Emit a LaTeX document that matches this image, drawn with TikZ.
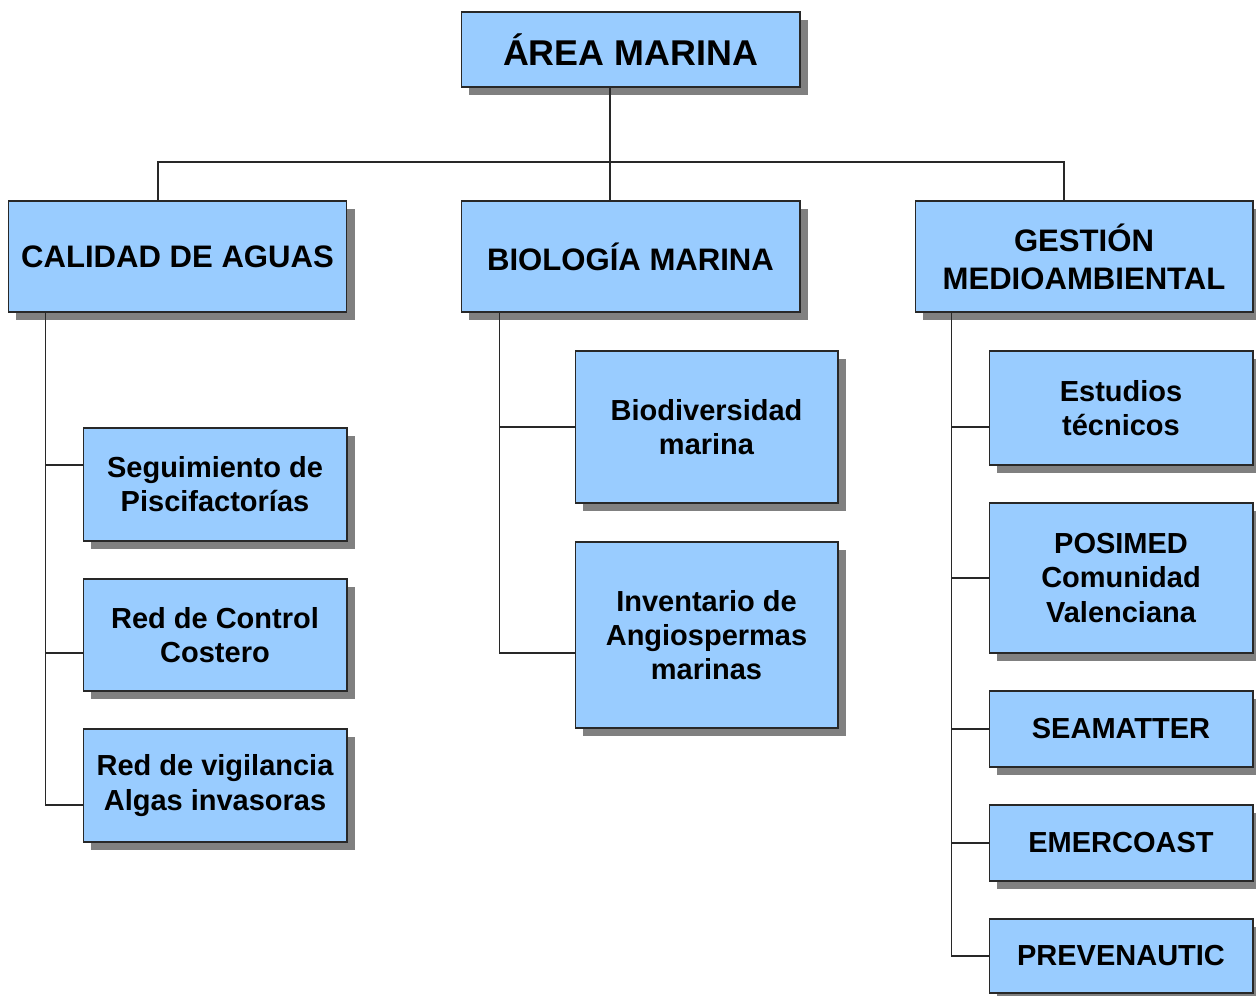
\documentclass[tikz,border=0pt]{standalone}
\usepackage{fontspec}
\setmainfont{Liberation Sans}
\usetikzlibrary{shadows}
\definecolor{boxblue}{RGB}{153,204,255}
\definecolor{shadowgray}{RGB}{128,128,128}
\definecolor{edgegray}{RGB}{40,40,40}
\tikzset{
  box/.style={draw=edgegray, line width=0.6pt, fill=boxblue, inner sep=0pt, outer sep=0pt,
    align=center, font=\bfseries\fontsize{16.5}{19.5}\selectfont,
    general shadow={fill=shadowgray, shadow xshift=0.16cm, shadow yshift=-0.16cm}},
  head/.style={box, font=\bfseries\fontsize{17.7}{21.5}\selectfont,
    minimum width=6.78cm, minimum height=2.22cm},
  sub/.style={box, minimum width=5.28cm},
  link/.style={draw=edgegray, line width=0.6pt}
}
\begin{document}
\begin{tikzpicture}[x=0.02cm, y=-0.02cm]
      \useasboundingbox (0,0) rectangle (1256,996);
      \draw
        (630.5,49.5) node[box, font=\bfseries\fontsize{20.4}{24}\selectfont,
          minimum width=6.78cm, minimum height=1.5cm] (area){ÁREA MARINA}
        (177.5,256.5) node[head] (calidad){CALIDAD DE AGUAS}
        (630.5,256.5) node[head] (bio){BIOLOGÍA MARINA}
        (1084,256.5) node[head, minimum width=6.76cm] (gestion){GESTIÓN\\MEDIOAMBIENTAL}
        (215,484.5) node[sub, minimum height=2.26cm] (pisci){Seguimiento de\\Piscifactorías}
        (215,635) node[sub, minimum height=2.24cm] (control){Red de Control\\Costero}
        (215,785.5) node[sub, minimum height=2.26cm] (algas){Red de vigilancia\\Algas invasoras}
        (706.5,427) node[sub, minimum width=5.26cm, minimum height=3.04cm] (biodiv){Biodiversidad\\marina}
        (706.5,635) node[sub, minimum width=5.26cm, minimum height=3.72cm] (angio){Inventario de\\Angiospermas\\marinas}
        (1121,408) node[sub, minimum height=2.28cm] (estudios){Estudios\\técnicos}
        (1121,578) node[sub, minimum height=3cm] (posimed){POSIMED\\Comunidad\\Valenciana}
        (1121,729) node[sub, minimum height=1.52cm] (seamatter){SEAMATTER}
        (1121,843) node[sub, minimum height=1.52cm] (emercoast){EMERCOAST}
        (1121,956) node[sub, minimum height=1.48cm] (prevenautic){PREVENAUTIC};
      \coordinate (bus) at (610,162);
      \begin{scope}[link]
        \draw ([xshift=-0.41cm]area.south) to ([xshift=-0.41cm]bio.north);
        \draw ([xshift=-0.39cm]calidad.north) |- (bus) -| ([xshift=-0.4cm]gestion.north);
        \draw ([xshift=0.74cm]calidad.south west) |- ([yshift=0.39cm]pisci.west);
        \draw ([xshift=0.74cm]calidad.south west) |- ([yshift=-0.36cm]control.west);
        \draw ([xshift=0.74cm]calidad.south west) |- ([yshift=-0.39cm]algas.west);
        \draw ([xshift=0.76cm]bio.south west) |- (biodiv.west);
        \draw ([xshift=0.76cm]bio.south west) |- ([yshift=-0.36cm]angio.west);
        \draw ([xshift=0.72cm]gestion.south west) |- ([yshift=-0.38cm]estudios.west);
        \draw ([xshift=0.72cm]gestion.south west) |- (posimed.west);
        \draw ([xshift=0.72cm]gestion.south west) |- (seamatter.west);
        \draw ([xshift=0.72cm]gestion.south west) |- (emercoast.west);
        \draw ([xshift=0.72cm]gestion.south west) |- (prevenautic.west);
      \end{scope}
    \end{tikzpicture}
\end{document}
